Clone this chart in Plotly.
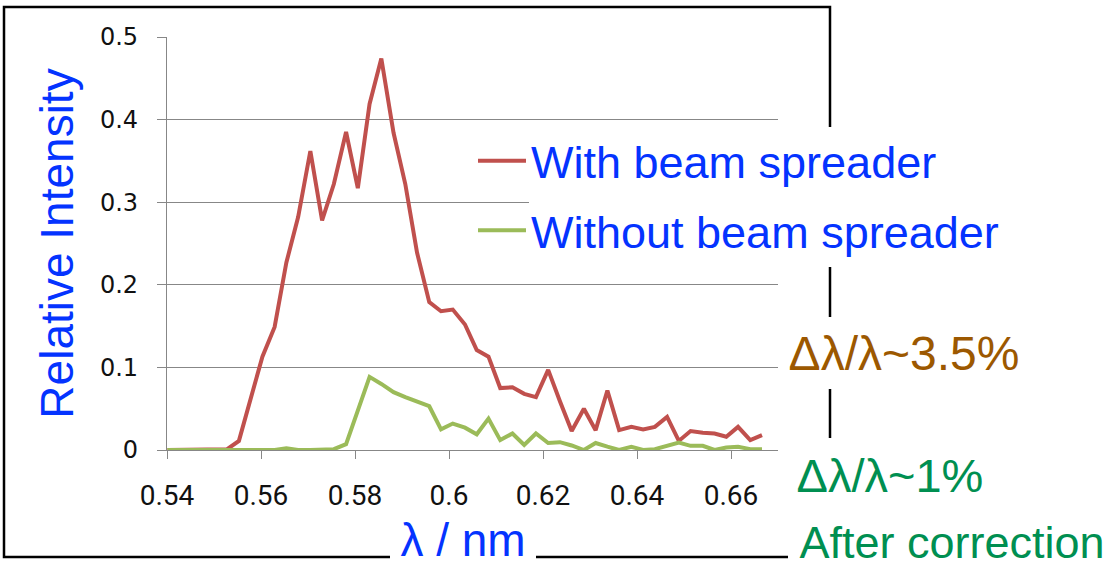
import plotly.graph_objects as go

W, H = 1120, 566

# ---- data ----
wavelength_nm = [0.5401, 0.5426, 0.5452, 0.5477, 0.5502, 0.5528, 0.5553, 0.5578, 0.5603, 0.5629,
                 0.5654, 0.5679, 0.5705, 0.5730, 0.5755, 0.5781, 0.5806, 0.5831, 0.5856, 0.5882,
                 0.5907, 0.5932, 0.5958, 0.5983, 0.6008, 0.6034, 0.6059, 0.6084, 0.6109, 0.6135,
                 0.6160, 0.6185, 0.6211, 0.6236, 0.6261, 0.6287, 0.6312, 0.6337, 0.6362, 0.6388,
                 0.6413, 0.6438, 0.6464, 0.6489, 0.6514, 0.6540, 0.6565, 0.6590, 0.6615, 0.6641,
                 0.6666]

with_spreader = [0, 0, 0, 0, 0, 0.001, 0.011, 0.062, 0.113, 0.149,
                 0.227, 0.282, 0.362, 0.278, 0.322, 0.385, 0.317, 0.419, 0.474, 0.384,
                 0.322, 0.239, 0.179, 0.168, 0.170, 0.152, 0.121, 0.113, 0.075, 0.076,
                 0.068, 0.064, 0.097, 0.059, 0.023, 0.050, 0.024, 0.072, 0.024, 0.028,
                 0.025, 0.028, 0.040, 0.011, 0.023, 0.021, 0.020, 0.016, 0.028, 0.012,
                 0.018]

without_spreader = [0, 0, 0, 0, 0, 0, 0, 0, 0, 0,
                    0.002, 0, 0, 0, 0.001, 0.007, 0.046, 0.0885, 0.080, 0.070,
                    0.064, 0.0585, 0.053, 0.025, 0.032, 0.027, 0.019, 0.038, 0.012, 0.020,
                    0.006, 0.020, 0.0085, 0.0095, 0.0055, 0.0, 0.0085, 0.004, 0.0, 0.004,
                    0.0, 0.001, 0.005, 0.009, 0.005, 0.005, 0.0, 0.003, 0.004, 0.001,
                    0.001]

series_names = ["With beam spreader", "Without beam spreader"]
x_tick_vals = [0.54, 0.56, 0.58, 0.60, 0.62, 0.64, 0.66]
x_tick_text = ["0.54", "0.56", "0.58", "0.6", "0.62", "0.64", "0.66"]
y_tick_vals = [0, 0.1, 0.2, 0.3, 0.4, 0.5]
y_tick_text = ["0", "0.1", "0.2", "0.3", "0.4", "0.5"]
x_title = "λ / nm"
y_title = "Relative Intensity"
note_texts = ["Δλ/λ~3.5%", "Δλ/λ~1%", "After correction"]

# ---- styling ----
RED = "#C0504D"
GREEN = "#9BBB59"
BLUE = "#0433FF"
BROWN = "#9C5800"
DGREEN = "#008F51"
GRID = "#878787"
BIG = "Liberation Sans, Arial, Helvetica, sans-serif"


def px(x):
    return x / W


def py(y):
    return (H - y) / H


fig = go.Figure()
fig.add_trace(go.Scatter(x=wavelength_nm, y=with_spreader, mode="lines", name=series_names[0],
                         legendgroup="a", line=dict(color=RED, width=4)))
fig.add_trace(go.Scatter(x=wavelength_nm, y=without_spreader, mode="lines", name=series_names[1],
                         legendgroup="b", line=dict(color=GREEN, width=4)))

fig.update_layout(
    width=W, height=H,
    margin=dict(l=0, r=0, t=0, b=0, pad=0, autoexpand=False),
    paper_bgcolor="white", plot_bgcolor="white",
    showlegend=True,
    legend=dict(x=px(473), xanchor="left", y=py(125), yanchor="top",
                bgcolor="rgba(0,0,0,0)", borderwidth=0,
                font=dict(family=BIG, size=45, color=BLUE),
                itemwidth=48, tracegroupgap=8, traceorder="grouped"),
    xaxis=dict(domain=[px(167), px(778)], range=[0.54, 0.67], automargin=False,
               tickvals=x_tick_vals, ticktext=x_tick_text,
               showgrid=False, zeroline=False,
               showline=True, linecolor=GRID, linewidth=1.3,
               ticks="outside", ticklen=8, tickcolor=GRID, tickwidth=1.3,
               tickfont=dict(family="Roboto, Liberation Sans, sans-serif", size=28, color="#111"),
               ticklabelstandoff=12),
    yaxis=dict(domain=[py(450), py(37)], range=[0, 0.5], automargin=False,
               tickvals=y_tick_vals, ticktext=y_tick_text,
               showgrid=True, gridcolor=GRID, gridwidth=1.3, zeroline=False,
               showline=True, linecolor=GRID, linewidth=1.3,
               ticks="outside", ticklen=9, tickcolor=GRID, tickwidth=1.3,
               tickfont=dict(family="DejaVu Sans, sans-serif", size=24, color="#111"),
               ticklabelstandoff=14,
               title=dict(text=y_title, font=dict(family=BIG, size=46, color=BLUE), standoff=11)),
)

# frame of the pasted chart and white cover behind the legend text
fig.add_shape(type="rect", xref="paper", yref="paper",
              x0=px(4), x1=px(830), y0=py(557), y1=py(7),
              line=dict(color="black", width=2.5), fillcolor="rgba(0,0,0,0)", layer="above")
fig.add_shape(type="rect", xref="paper", yref="paper",
              x0=px(529), x1=px(1022), y0=py(267), y1=py(127),
              line=dict(width=0), fillcolor="white", layer="above")

# text boxes with white background
boxes = [
    (x_title, 390, 510, 146, 60, BLUE, 46),
    (note_texts[0], 778, 317, 252, 72, BROWN, 48),
    (note_texts[1], 784, 438, 212, 74, DGREEN, 47),
    (note_texts[2], 788, 512, 328, 60, DGREEN, 45),
]
for text, left, top, bw, bh, col, fs in boxes:
    fig.add_annotation(text=text, xref="paper", yref="paper",
                       x=px(left), y=py(top), xanchor="left", yanchor="top",
                       width=bw, height=bh, align="center", valign="middle",
                       bgcolor="white", borderpad=0, borderwidth=0, showarrow=False,
                       font=dict(family=BIG, size=fs, color=col))

fig.write_html("out.html", config={"displayModeBar": False},
               post_script="document.body.style.margin='0px';")
